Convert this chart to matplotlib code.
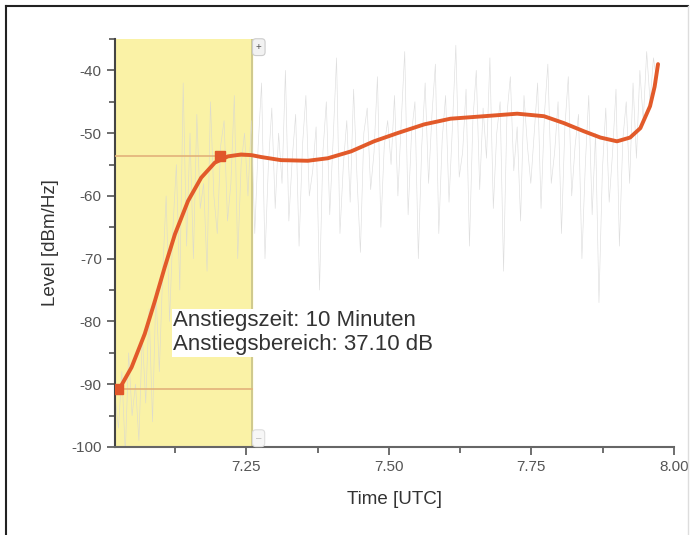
import numpy as np
import matplotlib
matplotlib.use("Agg")
import matplotlib.pyplot as plt
from matplotlib.lines import Line2D

plt.rcParams['font.family'] = ['Liberation Sans', 'DejaVu Sans']
plt.rcParams['axes.unicode_minus'] = False

# raw level trace (dBm/Hz), evenly spaced in time
noise_level = [
    -92, -97, -88, -101, -85, -95, -90, -99, -82, -93, -78, -96, -75, -88,
    -72, -60, -80, -65, -55, -75, -42, -68, -50, -70, -47, -62, -58, -72,
    -45, -60, -66, -52, -48, -64, -58, -44, -70, -55, -50,
    -60, -48, -66, -52, -42, -70, -55, -46, -62, -50, -58, -40, -64, -54,
    -47, -68, -52, -44, -60, -56, -49, -75, -53, -45, -63, -51, -38, -66,
    -55, -48, -61, -43, -57, -69, -50, -46, -59, -53, -41, -65, -52, -48,
    -55, -44, -60, -48, -37, -63, -50, -45, -70, -52, -42, -58, -47, -39,
    -66, -51, -44, -61, -49, -36, -57, -53, -43, -68, -48, -40, -59, -46,
    -54, -38, -62, -50, -45, -72, -47, -41, -56, -49, -64, -44, -52, -58,
    -50, -42, -62, -47, -39, -58, -53, -45, -66, -49, -41, -60, -52, -47,
    -70, -55, -44, -63, -50, -77, -56, -46, -61, -53, -43, -68, -51, -45,
    -58, -42, -54, -40, -48, -37, -45, -38, -42,
]
noise_start, noise_end = 7.02, 7.97

# smoothed fit curve
fit_time = [7.0285, 7.049, 7.072, 7.090, 7.107, 7.125, 7.148, 7.171, 7.195,
            7.218, 7.241, 7.259, 7.276, 7.311, 7.358, 7.393, 7.434, 7.474,
            7.515, 7.562, 7.608, 7.667, 7.725, 7.772, 7.807, 7.842, 7.871,
            7.900, 7.923, 7.941, 7.958, 7.966, 7.972]
fit_level = [-90.6, -87.3, -82.0, -76.7, -71.4, -66.1, -60.8, -57.1, -54.7,
             -53.7, -53.4, -53.5, -53.8, -54.3, -54.4, -54.0, -52.9, -51.3,
             -50.0, -48.6, -47.7, -47.3, -46.9, -47.3, -48.4, -49.7, -50.7,
             -51.3, -50.7, -49.2, -45.7, -42.6, -39.0]

# rise markers
rise_time = [7.026, 7.204]
rise_level = [-90.8, -53.7]
span_start, span_end = 7.02, 7.26

fig = plt.figure(figsize=(6.93, 5.35), dpi=100)
ax = fig.add_axes([0.166, 0.1645, 0.8066, 0.7626])

ax.axvspan(span_start, span_end, color='#faf2a6', zorder=0)
ax.axvline(span_end, color='#c8c28a', lw=1.2, zorder=1)

noise_t = np.linspace(noise_start, noise_end, len(noise_level))
ax.plot(noise_t, noise_level, color='#d6d6d6', lw=0.45, alpha=0.8, zorder=2)

for lvl in rise_level:
    ax.plot([span_start, span_end], [lvl, lvl], color='#e2b27a', lw=1.2, zorder=3)

ax.plot(fit_time, fit_level, color='#e25a2a', lw=2.8, solid_capstyle='round',
        solid_joinstyle='round', zorder=4)
ax.plot(rise_time, rise_level, 's', color='#e0562a', ms=7, zorder=5)

ax.text(7.122, -78.2, 'Anstiegszeit: 10 Minuten\nAnstiegsbereich: 37.10 dB',
        fontsize=16, color='#333333', va='top', ha='left', linespacing=1.2,
        bbox=dict(facecolor='white', edgecolor='none', pad=1), zorder=6)

# small zoom buttons
ax.text(7.267, -36.3, '+', fontsize=7, color='#555555', ha='left', va='center',
        bbox=dict(boxstyle='round,pad=0.35', fc='#f2f2f2', ec='#cccccc', lw=0.8),
        zorder=6)
ax.text(7.267, -98.6, '–', fontsize=7, color='#bbbbbb', ha='left', va='center',
        bbox=dict(boxstyle='round,pad=0.35', fc='#f7f7f7', ec='#dddddd', lw=0.8),
        zorder=6)

ax.set_xlim(7.02, 8.0)
ax.set_ylim(-100, -35)
ax.set_xticks([7.25, 7.5, 7.75, 8.0])
ax.set_xticklabels(['7.25', '7.50', '7.75', '8.00'])
ax.set_xticks([7.125, 7.375, 7.625, 7.875], minor=True)
ax.set_yticks([-100, -90, -80, -70, -60, -50, -40])
ax.set_yticks([-95, -85, -75, -65, -55, -45, -35], minor=True)

for s in ['top', 'right']:
    ax.spines[s].set_visible(False)
ax.spines['left'].set_color('#444444')
ax.spines['bottom'].set_color('#666666')
ax.spines['left'].set_linewidth(1.5)
ax.spines['bottom'].set_linewidth(1.5)
ax.tick_params(which='major', length=6, width=1.2, color='#555555',
               labelsize=11, labelcolor='#555555')
ax.tick_params(which='minor', length=4, width=1.2, color='#555555')

ax.set_xlabel('Time [UTC]', fontsize=13.5, color='#333333', labelpad=12)
ax.set_ylabel('Level [dBm/Hz]', fontsize=13.5, color='#333333', labelpad=9)

# outer frame of the screenshot
fig.add_artist(Line2D([0.008, 0.008], [0, 0.989], color='#222222', lw=1.5,
                      transform=fig.transFigure))
fig.add_artist(Line2D([0.008, 0.993], [0.989, 0.989], color='#222222', lw=1.5,
                      transform=fig.transFigure))
fig.add_artist(Line2D([0.993, 0.993], [0, 0.989], color='#dddddd', lw=1.0,
                      transform=fig.transFigure))

fig.savefig('out.png', dpi=100)
